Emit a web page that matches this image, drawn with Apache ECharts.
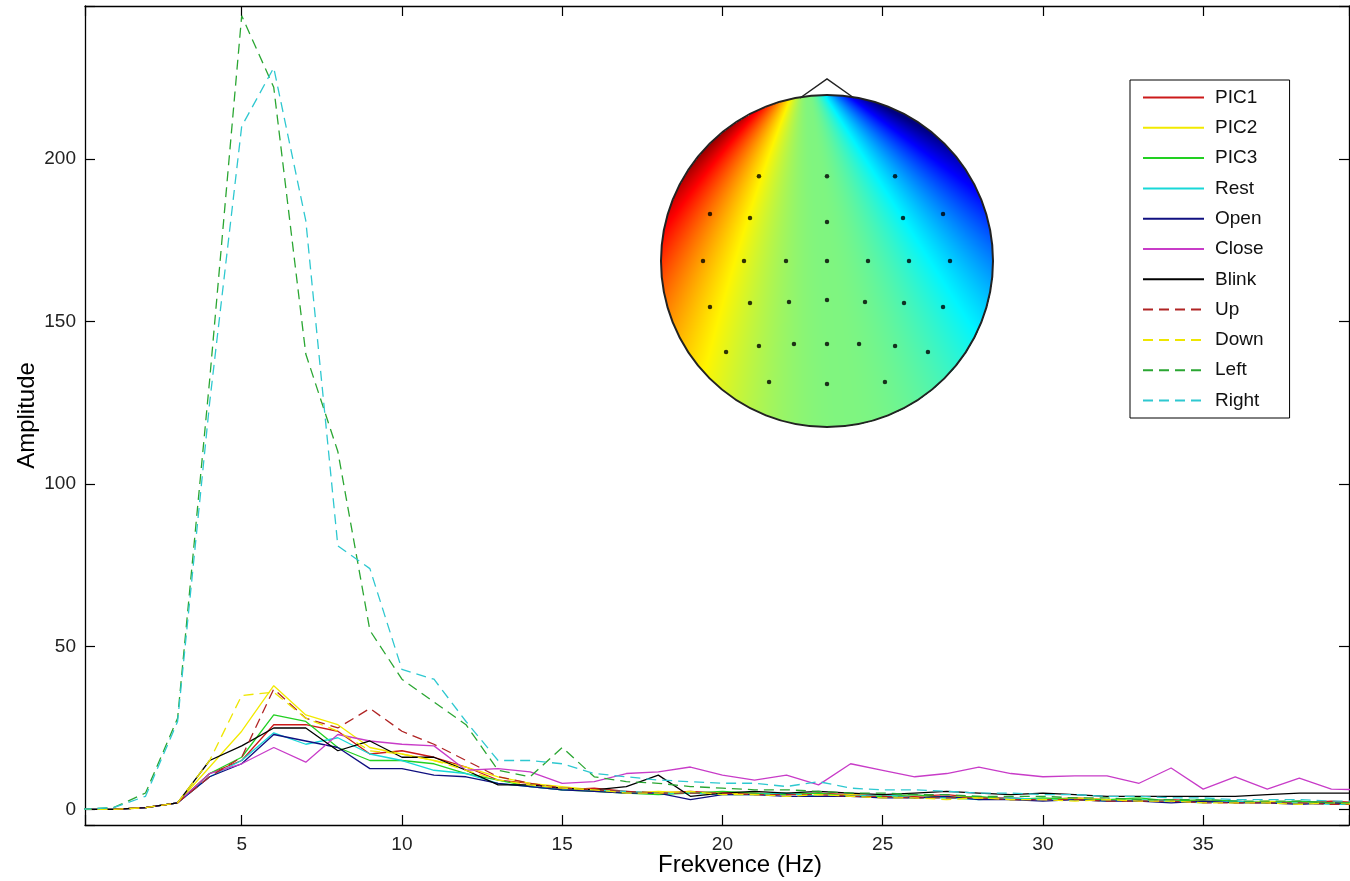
<!DOCTYPE html>
<html lang="cs">

<head>
  <meta charset="UTF-8">
  <title>Amplitudové spektrum</title>
  <style>
    body {
      margin: 0;
      padding: 0;
      background: #fff;
    }

    .chart_main {
      width: 1350px;
      height: 881px;
    }
  </style>
</head>

<body>
  <div class="chart_main" id="chart_main"></div>

  <script src="https://cdn.jsdelivr.net/npm/echarts/dist/echarts.min.js"></script>
  <script>
    // frequency bins (Hz)
    var freq = [0, 1, 2, 3, 4, 5, 6, 7, 8, 9, 10, 11, 12, 13, 14, 15, 16, 17, 18, 19, 20,
      21, 22, 23, 24, 25, 26, 27, 28, 29, 30, 31, 32, 33, 34, 35, 36, 37, 38, 39, 40];

    var pic1 = [0, 0, 0.5, 2, 11, 15, 26, 26, 24, 17, 18, 16, 13, 9, 8, 6, 6.5, 5.5, 5, 5.5, 5,
      5, 4.5, 5, 4.5, 4, 4, 4.5, 3.5, 3.5, 3, 3.5, 3, 2.5, 3, 2.5, 2.5, 2, 2, 2.5, 2];
    var pic2 = [0, 0, 0.5, 2, 13, 24, 38, 29, 26, 19, 17, 15, 13, 10, 8, 7, 6, 5, 5.5, 5, 5,
      4.5, 5, 4, 4.5, 4, 3.5, 4, 3.5, 3, 3, 3.5, 3, 3, 2.5, 2.5, 2, 2.5, 2, 2, 2];
    var pic3 = [0, 0, 0.5, 2, 11, 16, 29, 27, 19, 15, 15, 14, 11, 9, 7, 6, 5.5, 5, 4.5, 5, 5.5,
      5, 4.5, 5, 4, 4, 4.5, 3.5, 4, 3, 3.5, 3, 3, 3.5, 2.5, 3, 2.5, 2, 2.5, 2, 2];
    var rest = [0, 0, 0.5, 2, 10, 15, 23.5, 20, 22, 17, 15, 12, 11, 8, 7, 6, 6, 5.5, 5, 5, 4.5,
      4.5, 5, 4, 4, 4.5, 3.5, 3.5, 3, 3.5, 3, 3, 2.5, 3, 2.5, 2, 2.5, 2, 2, 1.5, 1.5];
    var open = [0, 0, 0.5, 2, 10, 14, 23, 21, 19, 12.5, 12.5, 10.5, 10, 8, 7, 6, 5.5, 5, 5, 3, 4.5,
      4.5, 4, 4, 4, 3.5, 3.5, 4, 3, 3, 2.5, 3, 2.5, 2.5, 2, 2.5, 2, 2, 1.5, 2, 1.5];
    var close = [0, 0, 0.5, 2, 11, 14, 19, 14.5, 23, 21, 20, 19.5, 12, 12.5, 11.5, 8, 8.5, 11, 11.5, 13, 10.5,
      9, 10.5, 7.5, 14, 12, 10, 11, 13, 11, 10, 10.3, 10.3, 8, 12.7, 6.2, 10, 6.2, 9.6, 6.2, 6];
    var blink = [0, 0, 0.5, 2, 15, 19.5, 25, 25, 18, 21, 16, 16, 12, 7.5, 7.5, 6.5, 6, 7, 10.5, 4, 5,
      5.5, 5, 5.5, 5, 4.5, 5, 5.5, 5, 4.5, 5, 4.5, 4, 4, 4, 4, 4, 4.5, 5, 5, 5];
    var up = [0, 0, 0.5, 2, 10, 16, 37, 28, 25, 31, 24, 20, 15, 10, 8, 6.5, 6, 5.5, 5, 5, 5,
      4.5, 4.5, 4.5, 4, 4, 3.5, 3.5, 3.5, 3, 3, 3, 2.5, 2.5, 2.5, 2, 2, 2, 2, 1.5, 1.5];
    var down = [0, 0, 0.5, 2, 15, 35, 36, 28, 24, 18, 17, 15, 12, 9, 7.5, 6.5, 6, 5, 5, 5.5, 4.5,
      4.5, 4, 4.5, 4, 3.5, 3.5, 3, 3.5, 3, 3, 2.5, 3, 2.5, 2.5, 2, 2, 2, 1.5, 2, 1.5];
    var left = [0, 0.5, 5, 28, 132, 244, 222, 140, 110, 55, 40, 33, 26, 12, 10, 19, 10, 8.5, 8, 7, 6.5,
      6, 6, 5.5, 5, 5, 4.5, 4.5, 4, 4, 4, 3.5, 3.5, 3, 3, 3, 2.5, 2.5, 2.5, 2, 2];
    var right = [0, 0.5, 4, 27, 125, 210, 228, 181, 81, 74, 43, 40, 27, 15, 15, 14, 11, 10, 9, 8.5, 8,
      8, 7, 8.5, 6.5, 6, 6, 5.5, 5, 5, 4.5, 4.5, 4, 4, 3.5, 3.5, 3, 3, 3, 2.5, 2.5];

    var names = ['PIC1', 'PIC2', 'PIC3', 'Rest', 'Open', 'Close', 'Blink', 'Up', 'Down', 'Left', 'Right'];
    var values = [pic1, pic2, pic3, rest, open, close, blink, up, down, left, right];
    var colors = ['#cc1a1a', '#f2ea00', '#22d022', '#18d8d8', '#101080', '#c83cc8', '#000000',
      '#b02424', '#eee600', '#2aa632', '#2ec8d0'];
    var dashed = [false, false, false, false, false, false, false, true, true, true, true];

    // electrode positions on the head (normalised, -1..1)
    var electrodes = [
      [-0.41, 0.51], [0, 0.51], [0.41, 0.51],
      [-0.705, 0.283], [-0.464, 0.259], [0, 0.235], [0.458, 0.259], [0.699, 0.283],
      [-0.747, 0], [-0.5, 0], [-0.247, 0], [0, 0], [0.247, 0], [0.494, 0], [0.741, 0],
      [-0.705, -0.277], [-0.464, -0.253], [-0.229, -0.247], [0, -0.235], [0.229, -0.247], [0.464, -0.253], [0.699, -0.277],
      [-0.608, -0.548], [-0.41, -0.512], [-0.199, -0.5], [0, -0.5], [0.193, -0.5], [0.41, -0.512], [0.608, -0.548],
      [-0.349, -0.729], [0, -0.741], [0.349, -0.729]
    ];

    var chart = echarts.init(document.getElementById('chart_main'));

    var FONT = 'Liberation Sans, Arial, sans-serif';
    var HEAD = { left: 661, top: 95, size: 332 };

    function jet(v) {
      function c(x) { return Math.max(0, Math.min(1, x)); }
      return [c(1.5 - Math.abs(4 * v - 3)), c(1.5 - Math.abs(4 * v - 2)), c(1.5 - Math.abs(4 * v - 1))];
    }

    // topographic colour map of the head (picture only, not data)
    function headImage() {
      var n = HEAD.size, r = n / 2;
      var cv = document.createElement('canvas');
      cv.width = n; cv.height = n;
      var ctx = cv.getContext('2d');
      var img = ctx.createImageData(n, n);
      var px = 143, py = -32;
      for (var j = 0; j < n; j++) {
        for (var i = 0; i < n; i++) {
          var k = (j * n + i) * 4;
          var dx = i - r, dy = j - r;
          if (dx * dx + dy * dy > r * r) { img.data[k + 3] = 0; continue; }
          var th = Math.atan2(i - px, j - py) * 180 / Math.PI;
          var dist = Math.sqrt((i - px) * (i - px) + (j - py) * (j - py));
          var u = (th - 6.45) / 25.95;
          var dev;
          if (u < 0) {
            dev = -0.125 * Math.pow(-u, 1.85) * (0.8 + 0.25 * dist / 250);
          } else {
            dev = 0.125 * Math.pow(u, 1.85);
          }
          dev = Math.max(-0.5, Math.min(0.5, dev));
          var col = jet(0.5 - dev);
          img.data[k] = Math.round(col[0] * 255);
          img.data[k + 1] = Math.round(col[1] * 245);
          img.data[k + 2] = Math.round(col[2] * 255);
          img.data[k + 3] = 255;
        }
      }
      ctx.putImageData(img, 0, 0);
      return cv.toDataURL();
    }

    var series = names.map(function (name, idx) {
      return {
        name: name,
        type: 'line',
        xAxisIndex: 0,
        yAxisIndex: 0,
        symbol: 'none',
        clip: true,
        lineStyle: {
          color: colors[idx],
          width: 1.3,
          type: dashed[idx] ? [10, 6] : 'solid'
        },
        itemStyle: { color: colors[idx] },
        data: freq.map(function (f, i) { return [f, values[idx][i]]; })
      };
    });

    series.push({
      name: 'electrodes',
      type: 'scatter',
      xAxisIndex: 2,
      yAxisIndex: 2,
      symbolSize: 4.5,
      z: 5,
      itemStyle: { color: '#000' },
      silent: true,
      data: electrodes
    });

    function multipleOf(step) {
      return function (v) {
        return Math.abs(v - Math.round(v / step) * step) < 1e-6 ? String(Math.round(v)) : '';
      };
    }

    var tickStyle = { show: true, inside: true, length: 10, lineStyle: { color: '#000', width: 1.2 } };
    var lineStyle = { show: true, onZero: false, lineStyle: { color: '#000', width: 1.3 } };

    var option = {
      animation: false,
      backgroundColor: '#fff',
      grid: [
        { left: 85, top: 6, right: 1, bottom: 56, containLabel: false, outerBoundsMode: 'none' },
        { left: HEAD.left, top: HEAD.top, width: HEAD.size, height: HEAD.size, outerBoundsMode: 'none' }
      ],
      legend: {
        data: names,
        orient: 'vertical',
        left: 1130,
        top: 80,
        itemWidth: 61,
        itemHeight: 14,
        itemGap: 11.3,
        padding: [8, 26, 8, 12],
        borderColor: '#000',
        borderWidth: 1,
        backgroundColor: '#fff',
        itemStyle: { opacity: 0 },
        textStyle: { fontFamily: FONT, fontSize: 19, color: '#111', padding: [0, 0, 0, 6] }
      },
      xAxis: [{
        type: 'value',
        gridIndex: 0,
        min: 0.111,
        max: 39.55,
        minInterval: 5,
        maxInterval: 5,
        name: 'Frekvence (Hz)',
        nameLocation: 'middle',
        nameGap: 28,
        nameMoveOverlap: false,
        nameTextStyle: { fontFamily: FONT, fontSize: 24, color: '#000', padding: [0, 0, 0, 46] },
        axisLine: lineStyle,
        axisTick: tickStyle,
        axisLabel: { fontFamily: FONT, fontSize: 19, color: '#222', margin: 10, formatter: multipleOf(5) },
        splitLine: { show: false }
      }, {
        type: 'value',
        gridIndex: 0,
        position: 'top',
        min: 0.111,
        max: 39.55,
        minInterval: 5,
        maxInterval: 5,
        axisLine: lineStyle,
        axisTick: tickStyle,
        axisLabel: { show: false },
        splitLine: { show: false }
      }, {
        type: 'value',
        gridIndex: 1,
        min: -1,
        max: 1,
        show: false
      }],
      yAxis: [{
        type: 'value',
        gridIndex: 0,
        min: -4.83,
        max: 247,
        minInterval: 50,
        maxInterval: 50,
        name: 'Amplitude',
        nameLocation: 'middle',
        nameGap: 46,
        nameMoveOverlap: false,
        nameTextStyle: { fontFamily: FONT, fontSize: 24, color: '#000' },
        axisLine: lineStyle,
        axisTick: tickStyle,
        axisLabel: { fontFamily: FONT, fontSize: 19, color: '#222', margin: 9, formatter: multipleOf(50) },
        splitLine: { show: false }
      }, {
        type: 'value',
        gridIndex: 0,
        position: 'right',
        min: -4.83,
        max: 247,
        minInterval: 50,
        maxInterval: 50,
        axisLine: lineStyle,
        axisTick: tickStyle,
        axisLabel: { show: false },
        splitLine: { show: false }
      }, {
        type: 'value',
        gridIndex: 1,
        min: -1,
        max: 1,
        show: false
      }],
      graphic: [{
        type: 'image',
        left: HEAD.left,
        top: HEAD.top,
        z: 1,
        style: { image: headImage(), width: HEAD.size, height: HEAD.size }
      }, {
        type: 'circle',
        z: 2,
        shape: { cx: HEAD.left + HEAD.size / 2, cy: HEAD.top + HEAD.size / 2, r: HEAD.size / 2 },
        style: { fill: null, stroke: '#222', lineWidth: 2 }
      }, {
        type: 'polyline',
        z: 2,
        shape: { points: [[800, HEAD.top + 3], [827, 79], [854, HEAD.top + 3]] },
        style: { fill: null, stroke: '#222', lineWidth: 1.5 }
      }],
      series: series
    };

    chart.setOption(option);
  </script>
</body>

</html>
